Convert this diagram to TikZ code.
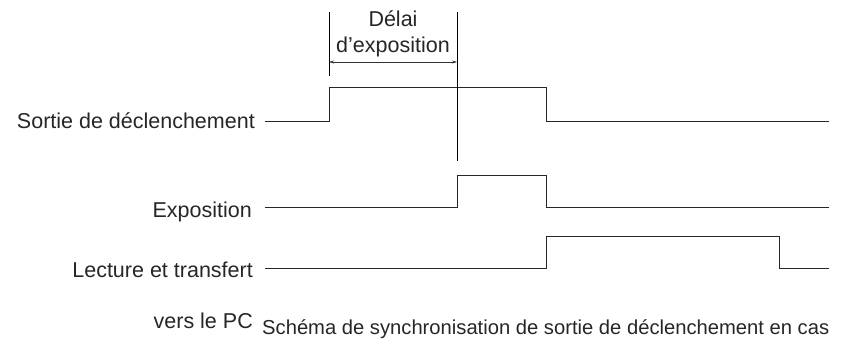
\documentclass[tikz,border=0pt]{standalone}
\usepackage{fontspec}
\setmainfont{Liberation Sans}
\usetikzlibrary{arrows.meta}
\begin{document}
\begin{tikzpicture}[x=1pt,y=-1pt,
  wave/.style={draw=black!85, line width=0.9pt},
  mark line/.style={draw=black, line width=0.8pt},
  lbl/.style={font=\fontsize{21.5}{24}\selectfont, inner sep=0pt, text=black!85},
  caplbl/.style={font=\fontsize{20.2}{24}\selectfont, inner sep=0pt, text=black!85},
  dim/.style={draw=black!80, line width=0.6pt, {Stealth[length=5pt,width=3pt]}-{Stealth[length=5pt,width=3pt]}}]
\useasboundingbox (0,0) rectangle (851,341);
% labels
\node[lbl, anchor=base east] (l1) at (255,128) {Sortie de déclenchement};
\node[lbl, anchor=base east] (l2) at (252,217) {Exposition};
\node[lbl, anchor=base east] (l3) at (253,277) {Lecture et transfert};
\node[lbl, anchor=base east] (l4) at (253,328) {vers le PC};
\node[caplbl, anchor=base west] (cap) at (262,334) {Schéma de synchronisation de sortie de déclenchement en cas};
% waveforms
\draw[wave] (265,121) -- (329,121) -- (329,87) -- (546,87) -- (546,121) -- (829,121);
\draw[wave] (265,207) -- (457,207) -- (457,175) -- (546,175) -- (546,207) -- (829,207);
\draw[wave] (265,268) -- (546,268) -- (546,236) -- (779,236) -- (779,268) -- (829,268);
% markers
\coordinate (a1) at (329,12);
\coordinate (a2) at (329,76);
\coordinate (b1) at (457,12);
\coordinate (b2) at (457,161);
\draw[mark line] (a1) -- (a2);
\draw[mark line] (b1) -- (b2);
\coordinate (d1) at (329,62);
\coordinate (d2) at (457,62);
\draw[dim] (d1) -- (d2);
\node[lbl, anchor=base] (t1) at (393,26) {Délai};
\node[lbl, anchor=base] (t2) at (393,52) {d’exposition};
\end{tikzpicture}
\end{document}
